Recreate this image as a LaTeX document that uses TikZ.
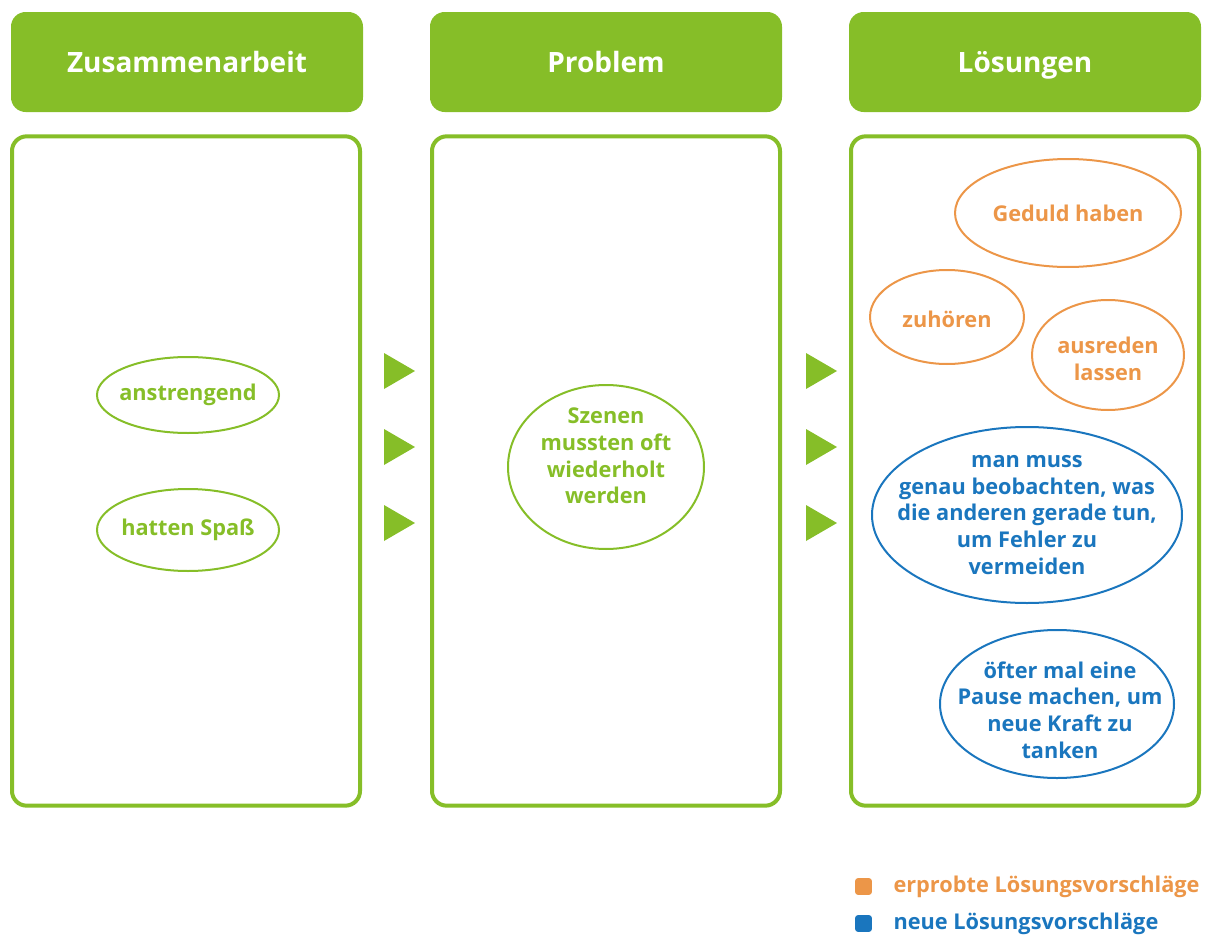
\documentclass[tikz,border=0pt]{standalone}
\usepackage{fontspec}
\setmainfont{Open Sans}
\definecolor{leafgreen}{RGB}{134,190,40}
\definecolor{triedorange}{RGB}{236,150,72}
\definecolor{newblue}{RGB}{26,118,190}
\tikzset{every picture/.style={line width=0.75pt}}
\tikzset{
  header/.style={fill=leafgreen, rounded corners=11pt, minimum width=264pt, minimum height=75pt,
    text=white, font=\fontsize{21}{25}\selectfont\bfseries, inner sep=0pt,
    text height=15pt, text depth=0pt},
  panel/.style={draw=leafgreen, line width=3pt, rounded corners=11pt, minimum width=261pt, minimum height=502pt},
  idea/.style={align=center, inner sep=0pt, font=\fontsize{16.3}{20}\selectfont\bfseries},
  tried/.style={idea, text=triedorange},
  newone/.style={idea, text=newblue},
  keytext/.style={anchor=west, inner sep=0pt, font=\fontsize{16.3}{18}\selectfont\bfseries},
}

\begin{document}
\begin{tikzpicture}[x=0.75pt,y=0.75pt,yscale=-1,xscale=1]
\useasboundingbox (0,0) rectangle (1215,935);

%Headers
\node [header] (hzus) at (187,62) {Zusammenarbeit};
\node [header] (hprob) at (606,62) {Problem};
\node [header] (hloes) at (1025,62) {Lösungen};

%Panels
\node [panel] (pzus) at (186,471) {};
\node [panel] (pprob) at (606,471) {};
\node [panel] (ploes) at (1025,471) {};

%Triangles between the panels
\foreach \tx in {384,806}
  \foreach \ty in {371,447,523}
    \fill [leafgreen] (\tx,\ty-18) -- (\tx+31,\ty) -- (\tx,\ty+18) -- cycle;

% Text Node
\node [idea, text=leafgreen] (anstr) at (188,395) {anstrengend};
\draw [leafgreen, line width=1.5pt] (anstr) ellipse [x radius=91, y radius=38];
% Text Node
\node [idea, text=leafgreen] (spass) at (188,530) {hatten Spaß};
\draw [leafgreen, line width=1.5pt] (spass) ellipse [x radius=91, y radius=41];
% Text Node
\node [idea, text=leafgreen] (szenen) at (606,456) {Szenen\\mussten oft\\wiederholt\\werden};
\draw [leafgreen, line width=1.5pt] ([yshift=8.25]szenen.center) ellipse [x radius=98, y radius=82];

% Text Node
\node [tried] (geduld) at (1068,213) {Geduld haben};
\draw [triedorange, line width=1.5pt] (geduld) ellipse [x radius=113, y radius=54];
% Text Node
\node [tried] (zuhoer) at (947,319) {zuhören};
\draw [triedorange, line width=1.5pt] ([yshift=-1.5]zuhoer.center) ellipse [x radius=77, y radius=47];
% Text Node
\node [tried] (ausred) at (1108,359) {ausreden\\lassen};
\draw [triedorange, line width=1.5pt] ([yshift=-3]ausred.center) ellipse [x radius=76, y radius=55];

% Text Node
\node [newone] (beob) at (1027,515) {man muss\\genau beobachten, was\\die anderen gerade tun,\\um Fehler zu\\vermeiden};
\draw [newblue, line width=1.5pt] (beob) ellipse [x radius=155, y radius=88];
% Text Node
\node [newone] (pause) at (1060,710) {öfter mal eine\\Pause machen, um\\neue Kraft zu\\tanken};
\draw [newblue, line width=1.5pt] ([xshift=-2.25,yshift=-4.5]pause.center) ellipse [x radius=117, y radius=74];

%Legend
\node [fill=triedorange, rounded corners=2pt, minimum size=12.5pt, inner sep=0pt] (ksq1) at (863.5,886.5) {};
\node [keytext, text=triedorange] (ktx1) at (893,886.5) {erprobte Lösungsvorschläge};
\node [fill=newblue, rounded corners=2pt, minimum size=12.5pt, inner sep=0pt] (ksq2) at (863.5,923.5) {};
\node [keytext, text=newblue] (ktx2) at (893,923.5) {neue Lösungsvorschläge};

\end{tikzpicture}
\end{document}
